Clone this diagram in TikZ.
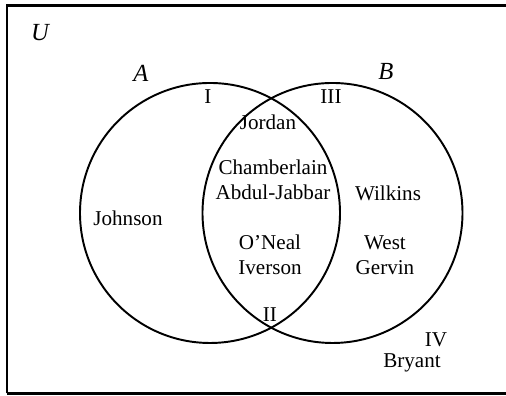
\documentclass[tikz,border=0pt]{standalone}
\usepackage{fontspec}
\setmainfont{Liberation Serif}

\tikzset{
  venn/.style={line width=1.1pt},
  setname/.style={font=\fontsize{14}{16}\selectfont\itshape},
  region/.style={font=\fontsize{12}{14}\selectfont},
  player/.style={font=\fontsize{12}{14.5}\selectfont, align=center, inner sep=0pt}
}

\begin{document}
\begin{tikzpicture}
                \useasboundingbox (0,0) rectangle (10.12,7.92);
                % universe box, its right side runs off the page
                \draw[line width=1.4pt] (0.14,0.05) -- (0.14,7.81) -- (10.12,7.81);
                \draw[line width=1.4pt] (0.14,0.05) -- (10.12,0.05);
                \node[setname] (U) at (0.8,7.26) {U};

                % the two sets
                \draw[venn] (4.2,3.66) circle (2.6);
                \draw[venn] (6.65,3.66) circle (2.6);
                \node[setname] (A) at (2.82,6.46) {A};
                \node[setname] (B) at (7.72,6.5) {B};

                % region numbers
                \node[region] (rI) at (4.16,5.98) {I};
                \node[region] (rII) at (5.4,1.62) {II};
                \node[region] (rIII) at (6.62,5.98) {III};
                \node[region] (rIV) at (8.72,1.12) {IV};

                % players
                \node[player] (jordan) at (5.36,5.48) {Jordan};
                \node[player] (chamberlain) at (5.46,4.32) {Chamberlain\\Abdul-Jabbar};
                \node[player] (oneal) at (5.4,2.82) {O'Neal\\Iverson};
                \node[player] (johnson) at (2.56,3.56) {Johnson};
                \node[player] (wilkins) at (7.76,4.06) {Wilkins};
                \node[player] (west) at (7.7,2.82) {West\\Gervin};
                \node[player] (bryant) at (8.24,0.66) {Bryant};
\end{tikzpicture}
\end{document}
